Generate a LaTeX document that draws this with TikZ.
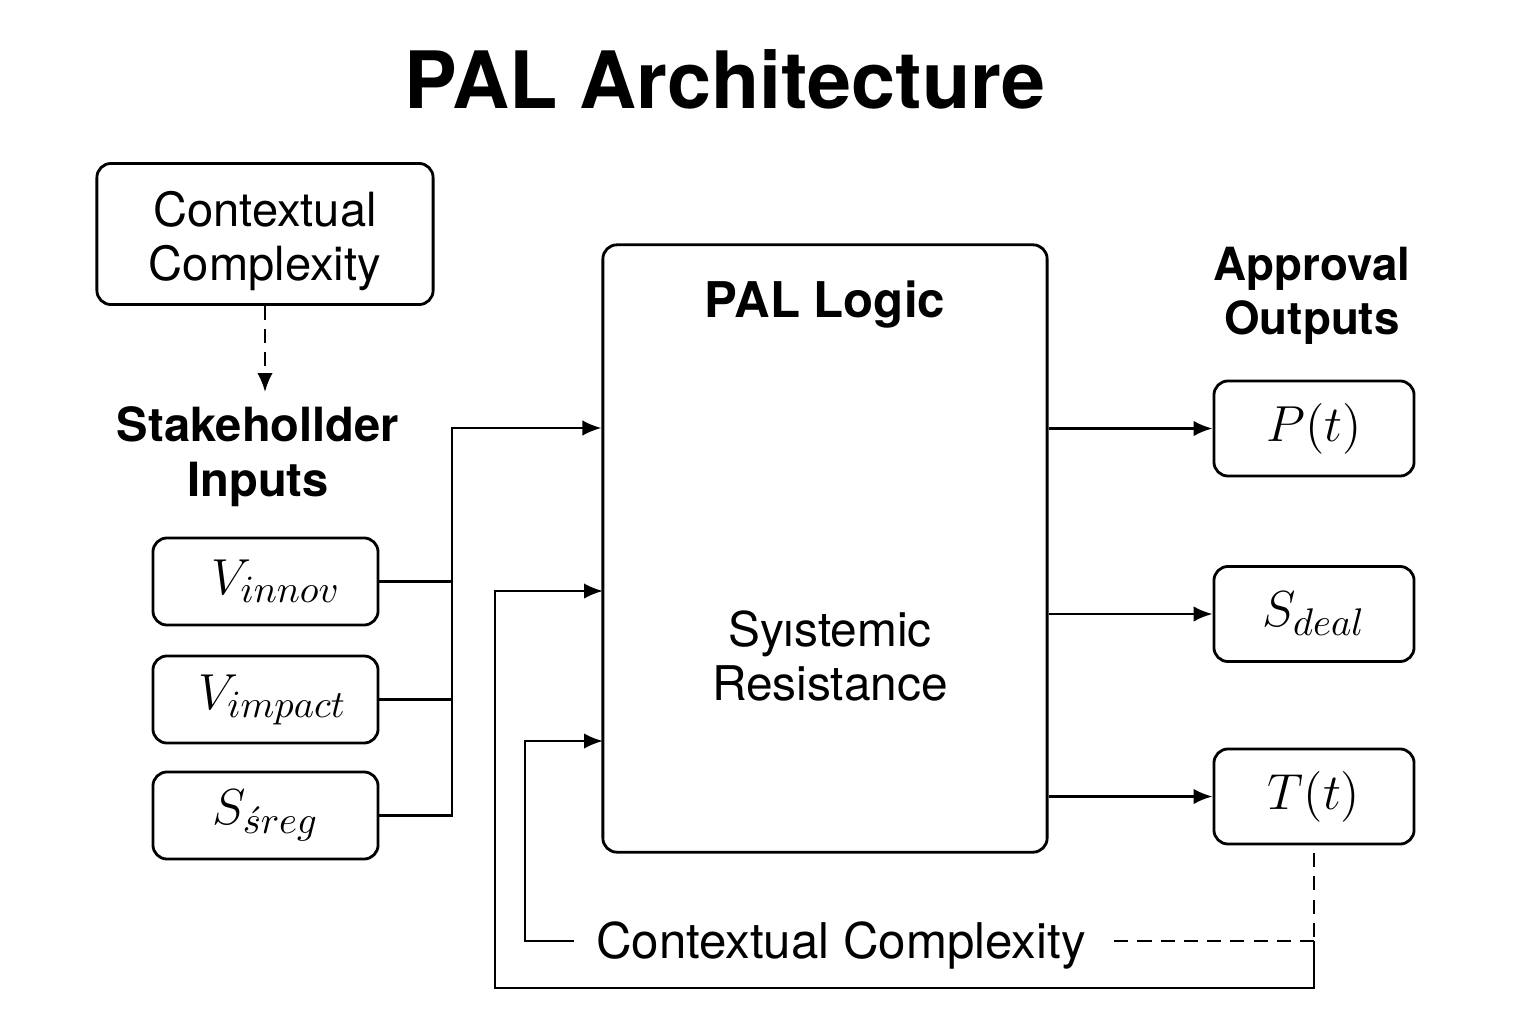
\documentclass[tikz,border=0pt]{standalone}
\usepackage{fontspec}
\setmainfont{TeX Gyre Heros}
\usepackage{tikz}
\usetikzlibrary{arrows.meta}

\begin{document}
\begin{tikzpicture}[
    x=0.01cm,y=-0.01cm,
    box/.style={draw,line width=.8pt,rounded corners=4pt,align=center},
    inbox/.style={box,minimum width=2.25cm,minimum height=.87cm,font=\fontsize{15}{17}\selectfont},
    outbox/.style={box,minimum width=2cm,minimum height=.95cm,font=\fontsize{15}{17}\selectfont},
    head/.style={align=center,font=\fontsize{13.4}{15.6}\selectfont\bfseries},
    txt/.style={align=center,font=\fontsize{13.6}{15.6}\selectfont},
    line/.style={line width=.7pt},
    arr/.style={line,-{Latex[length=5.4pt,width=4.4pt]}},
    dashline/.style={line,dash pattern=on 4pt off 2.6pt}
    ]
    \useasboundingbox (0,0) rectangle (1536,1024);
    \node[font=\fontsize{22.5}{26}\selectfont\bfseries] (title) at (725,79) {PAL Architecture};

    % left side
    \node[box,minimum width=3.36cm,minimum height=1.41cm] (ctx) at (265,234) {};
    \node[txt,font=\fontsize{13.4}{15.6}\selectfont] (ctxtext) at (265,241) {Contextual\\Complexity};
    \node[head] (stake) at (258,457) {Stakehollder\\Inputs};
    \coordinate (stktop) at (265,392);
    \draw[dashline,-{Latex[length=5.4pt,width=4.4pt]}] (ctx.south) -- (stktop);
    \node[inbox] (innov) at (265.5,581.5) {\hspace*{6pt}$V_{innov}$};
    \node[inbox] (impact) at (265.5,699.5) {\hspace*{4pt}$V_{impact}$};
    \node[inbox] (sreg) at (265.5,815.5) {$S_{\acute{s}reg}$};

    % middle
    \node[box,minimum width=4.44cm,minimum height=6.07cm] (pal) at (825,548.5) {};
    \node[head,font=\fontsize{14}{16}\selectfont\bfseries] (logic) at (825,305) {PAL Logic};
    \node[txt] (resist) at (830,656) {Syıstemic\\Resistance};

    \coordinate (jtop) at (452,428);
    \draw[line] (innov.east) -- (innov.east -| jtop);
    \draw[line] (impact.east) -- (impact.east -| jtop);
    \draw[arr] (sreg.east) -| (jtop) -- (jtop -| pal.west);

    % right side
    \node[head,font=\fontsize{13}{15.2}\selectfont\bfseries] (appr) at (1312,296) {Approval\\Outputs};
    \node[outbox] (pt) at (1314,428.5) {$P(t)$};
    \node[outbox] (sdeal) at (1314,614) {$S_{deal}$};
    \node[outbox] (tt) at (1314,796.5) {$T(t)$};
    \draw[arr] (pal.east |- pt.west) -- (pt.west);
    \draw[arr] (pal.east |- sdeal.west) -- (sdeal.west);
    \draw[arr] (pal.east |- tt.west) -- (tt.west);

    % feedback
    \node[txt,font=\fontsize{14}{16}\selectfont,inner xsep=6pt] (ctxb) at (841,945) {Contextual Complexity};
    \coordinate (fb) at (1314,941);
    \coordinate (loopa) at (495,988);
    \coordinate (loopb) at (525,941);
    \coordinate (ina) at (603,591);
    \coordinate (inb) at (603,741);
    \draw[dashline,shorten <=2.2pt] (tt.south) -- (fb);
    \draw[dashline] (fb) -- (ctxb.east |- fb);
    \draw[arr] (fb) |- (loopa) |- (ina);
    \draw[arr] (ctxb.west |- fb) -- (loopb) |- (inb);
  \end{tikzpicture}
\end{document}
